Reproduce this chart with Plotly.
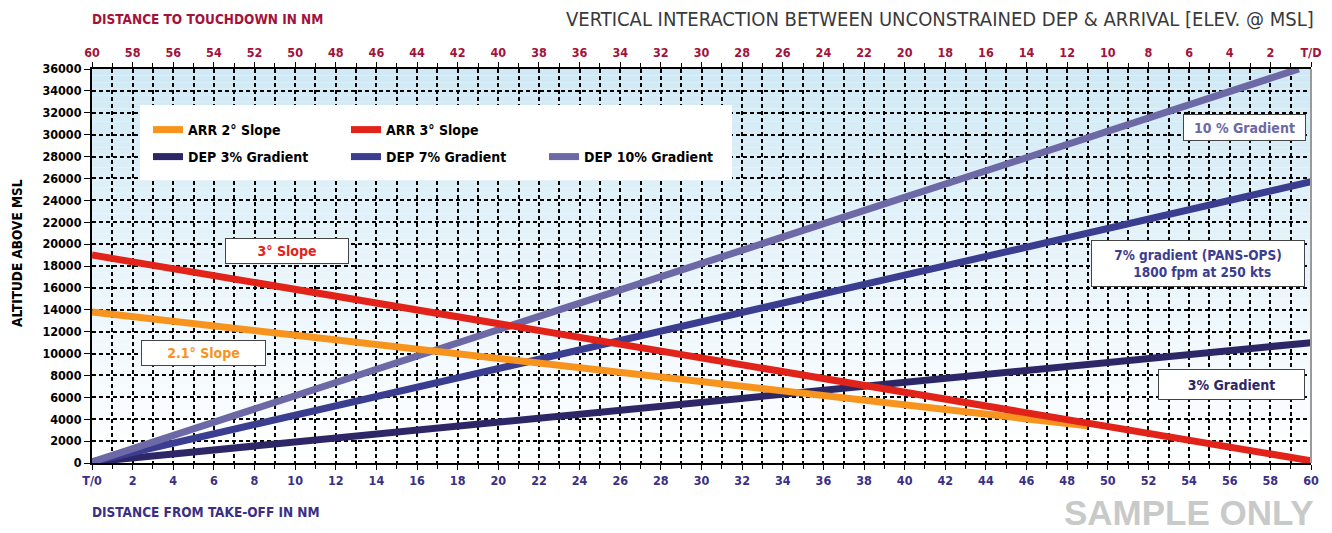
import plotly.graph_objects as go

# ---------------- data ----------------
# Arrival profiles: distance to touchdown (NM) vs altitude (ft MSL)
arr3_dist_to_td = [60, 0]
arr3_alt = [19000, 200]
arr2_dist_to_td = [60, 11]
arr2_alt = [13800, 3400]

# Departure profiles: distance from take-off (NM) vs altitude (ft MSL)
dep3_dist = [0, 60]
dep3_alt = [100, 11000]
dep7_dist = [0, 60]
dep7_alt = [100, 25700]
dep10_dist = [0, 59.4]
dep10_alt = [100, 36000]

# axis ticks
bottom_tickvals = list(range(0, 61, 2))
bottom_ticktext = ["T/0"] + [str(v) for v in range(2, 61, 2)]
top_tickvals = list(range(60, -1, -2))
top_ticktext = [str(v) for v in range(60, 0, -2)] + ["T/D"]
alt_tickvals = list(range(0, 36001, 2000))
alt_ticktext = [str(v) for v in alt_tickvals]

# ---------------- style ----------------
COND = "Liberation Sans Narrow, Arial Narrow, DejaVu Sans Condensed, sans-serif"
C_ORANGE = "#f7941d"
C_RED = "#e2231a"
C_DEP3 = "#2e2767"
C_DEP7 = "#3b3d91"
C_DEP10 = "#6d68a6"
MAROON = "#a3123a"
NAVY = "#3b2f85"

W, H = 1332, 533
L, R, T, B = 92, 1311, 69, 463


def pxx(x):
    return (x - L) / (R - L)


def pxy(y):
    return (B - y) / (B - T)


fig = go.Figure()

fig.add_trace(go.Scatter(x=arr2_dist_to_td, y=arr2_alt, xaxis="x2", mode="lines",
                         name="ARR 2° Slope", line=dict(color=C_ORANGE, width=7),
                         legend="legend"))
fig.add_trace(go.Scatter(x=arr3_dist_to_td, y=arr3_alt, xaxis="x2", mode="lines",
                         name="ARR 3° Slope", line=dict(color=C_RED, width=7),
                         legend="legend"))
fig.add_trace(go.Scatter(x=dep3_dist, y=dep3_alt, mode="lines",
                         name="DEP 3% Gradient", line=dict(color=C_DEP3, width=7),
                         legend="legend2"))
fig.add_trace(go.Scatter(x=dep7_dist, y=dep7_alt, mode="lines",
                         name="DEP 7% Gradient", line=dict(color=C_DEP7, width=7),
                         legend="legend2"))
fig.add_trace(go.Scatter(x=dep10_dist, y=dep10_alt, mode="lines",
                         name="DEP 10% Gradient", line=dict(color=C_DEP10, width=7),
                         legend="legend2"))

# background gradient (light blue top -> white bottom)
shapes = []
N = 60
top_rgb = (208, 233, 245)
bot_rgb = (255, 255, 255)
for i in range(N):
    f = i / (N - 1)
    c = tuple(round(top_rgb[k] + (bot_rgb[k] - top_rgb[k]) * f) for k in range(3))
    shapes.append(dict(type="rect", xref="x domain", yref="y domain",
                       x0=0, x1=1, y0=1 - (i + 1) / N, y1=1 - i / N,
                       fillcolor="rgb(%d,%d,%d)" % c, line=dict(width=0),
                       layer="below"))
# legend white box
shapes.append(dict(type="rect", xref="paper", yref="paper",
                   x0=pxx(140), x1=pxx(732), y0=pxy(180), y1=pxy(105),
                   fillcolor="white", line=dict(width=0), layer="above"))
# right border
shapes.append(dict(type="line", xref="paper", yref="paper",
                   x0=1, x1=1, y0=0, y1=1, line=dict(color="#9a9a9a", width=2)))

grid_dash = "4px,3px"
TICKF = 12.5

fig.update_layout(
    width=W, height=H,
    margin=dict(l=L, r=W - R, t=T, b=H - B, autoexpand=False),
    paper_bgcolor="white",
    plot_bgcolor="white",
    shapes=shapes,
    xaxis=dict(range=[0, 60], tickvals=bottom_tickvals, ticktext=bottom_ticktext,
               showgrid=True, gridcolor="black", griddash=grid_dash, gridwidth=1.5,
               minor=dict(dtick=1, showgrid=True, gridcolor="black", griddash=grid_dash,
                          gridwidth=1.5, ticks="outside", ticklen=4, tickcolor="black"),
               ticks="outside", ticklen=5, tickcolor="black",
               showline=True, linecolor="black", linewidth=2,
               tickfont=dict(family=COND, size=TICKF, color=NAVY, weight="bold"),
               zeroline=False, automargin=False),
    xaxis2=dict(range=[60, 0], overlaying="x", side="top",
                tickvals=top_tickvals, ticktext=top_ticktext,
                showgrid=False, ticks="outside", ticklen=5, tickcolor="black",
                minor=dict(dtick=1, ticks="outside", ticklen=4, tickcolor="black"),
                showline=True, linecolor="black", linewidth=2,
                tickfont=dict(family=COND, size=TICKF, color=MAROON, weight="bold"),
                zeroline=False, automargin=False),
    yaxis=dict(range=[0, 36000], tickvals=alt_tickvals, ticktext=alt_ticktext,
               showgrid=True, gridcolor="black", griddash=grid_dash, gridwidth=1.5,
               ticks="outside", ticklen=6, tickcolor="black",
               showline=True, linecolor="black", linewidth=2,
               tickfont=dict(family=COND, size=TICKF, color="black", weight="bold"),
               zeroline=False, automargin=False),
    legend=dict(orientation="h", x=pxx(148), y=pxy(130), xanchor="left", yanchor="middle",
                bgcolor="rgba(0,0,0,0)", entrywidth=153, entrywidthmode="pixels",
                font=dict(family=COND, size=14, color="black", weight="bold"),
                traceorder="normal"),
    legend2=dict(orientation="h", x=pxx(148), y=pxy(157), xanchor="left", yanchor="middle",
                 bgcolor="rgba(0,0,0,0)", entrywidth=153, entrywidthmode="pixels",
                 font=dict(family=COND, size=14, color="black", weight="bold"),
                 traceorder="normal"),
)

annotations = [
    dict(text="DISTANCE TO TOUCHDOWN IN NM", x=pxx(90), y=pxy(19), xanchor="left",
         yanchor="middle", font=dict(family=COND, size=13.5, color=MAROON, weight="bold")),
    dict(text="VERTICAL INTERACTION BETWEEN UNCONSTRAINED DEP &amp; ARRIVAL [ELEV. @ MSL]",
         x=pxx(1316), y=pxy(19), xanchor="right", yanchor="middle",
         font=dict(family=COND, size=20, color="#3a3a3a")),
    dict(text="DISTANCE FROM TAKE-OFF IN NM", x=pxx(90), y=pxy(512), xanchor="left",
         yanchor="middle", font=dict(family=COND, size=13.5, color=NAVY, weight="bold")),
    dict(text="ALTITUDE ABOVE MSL", x=pxx(17), y=pxy(253), textangle=-90,
         xanchor="center", yanchor="middle",
         font=dict(family=COND, size=13.5, color="black", weight="bold")),
    dict(text="SAMPLE ONLY", x=pxx(1316), y=pxy(512), xanchor="right", yanchor="middle",
         font=dict(family="Liberation Sans, Arial, sans-serif", size=35, color="#c8c9c9",
                   weight="bold")),
    # boxed labels
    dict(text="3° Slope", x=pxx(287), y=pxy(251), width=122, height=24,
         font=dict(family=COND, size=14, color=C_RED, weight="bold")),
    dict(text="2.1° Slope", x=pxx(203), y=pxy(353), width=123, height=24,
         font=dict(family=COND, size=14, color=C_ORANGE, weight="bold")),
    dict(text="10 % Gradient", x=pxx(1244), y=pxy(127), width=121, height=25,
         font=dict(family=COND, size=14, color=C_DEP10, weight="bold")),
    dict(text="7% gradient (PANS-OPS)<br>  1800 fpm at 250 kts", x=pxx(1198), y=pxy(263),
         width=212, height=45,
         font=dict(family=COND, size=13.5, color=C_DEP7, weight="bold")),
    dict(text="3% Gradient", x=pxx(1231), y=pxy(384), width=145, height=29,
         font=dict(family=COND, size=14, color=C_DEP3, weight="bold")),
]
for a in annotations:
    a.setdefault("xref", "paper")
    a.setdefault("yref", "paper")
    a["showarrow"] = False
    if "width" in a:
        a.update(bgcolor="white", bordercolor="#444444", borderwidth=1, borderpad=0,
                 xanchor="center", yanchor="middle")
fig.update_layout(annotations=annotations)

fig.write_html("out.html", config={"displayModeBar": False},
               post_script="document.body.style.margin='0';document.body.style.overflow='hidden';")
